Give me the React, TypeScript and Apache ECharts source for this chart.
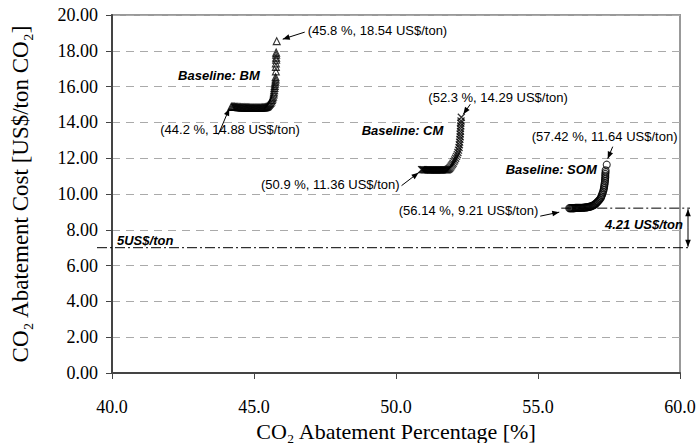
import React, { useEffect, useRef } from 'react';
import * as echarts from 'echarts';

const xTicks = [40, 45, 50, 55, 60];
const yTicks = [0, 2, 4, 6, 8, 10, 12, 14, 16, 18, 20];

const bmPoints: number[][] = [
  [44.20, 14.88], [44.23, 14.88], [44.26, 14.87], [44.29, 14.87], [44.32, 14.87], [44.35, 14.86],
  [44.38, 14.86], [44.41, 14.86], [44.44, 14.85], [44.47, 14.85], [44.50, 14.85], [44.53, 14.85],
  [44.56, 14.84], [44.59, 14.84], [44.62, 14.84], [44.65, 14.84], [44.68, 14.84], [44.71, 14.83],
  [44.74, 14.83], [44.77, 14.83], [44.80, 14.83], [44.83, 14.83], [44.86, 14.82], [44.89, 14.82],
  [44.92, 14.82], [44.95, 14.82], [44.98, 14.82], [45.01, 14.82], [45.04, 14.82], [45.07, 14.82],
  [45.10, 14.82], [45.13, 14.82], [45.16, 14.82], [45.19, 14.82], [45.22, 14.82], [45.25, 14.82],
  [45.28, 14.83], [45.31, 14.83], [45.34, 14.83], [45.37, 14.84], [45.40, 14.85], [45.43, 14.86],
  [45.46, 14.88], [45.49, 14.92], [45.52, 14.97], [45.55, 15.03], [45.58, 15.09], [45.61, 15.17],
  [45.63, 15.25], [45.65, 15.34], [45.67, 15.44], [45.69, 15.56], [45.70, 15.68], [45.71, 15.80],
  [45.72, 15.92], [45.73, 16.04], [45.74, 16.16], [45.75, 16.28], [45.76, 16.40], [45.76, 16.52],
  [45.77, 16.85], [45.77, 17.10], [45.77, 17.30], [45.78, 17.50], [45.78, 17.62], [45.78, 17.78],
  [45.78, 17.90], [45.80, 18.54],
];

const cmPoints: number[][] = [
  [50.90, 11.36], [50.93, 11.36], [50.96, 11.36], [50.99, 11.35], [51.02, 11.35], [51.05, 11.35],
  [51.08, 11.35], [51.11, 11.35], [51.14, 11.34], [51.17, 11.34], [51.20, 11.34], [51.23, 11.34],
  [51.26, 11.34], [51.29, 11.34], [51.32, 11.34], [51.35, 11.34], [51.38, 11.34], [51.41, 11.34],
  [51.44, 11.34], [51.47, 11.34], [51.50, 11.34], [51.53, 11.34], [51.56, 11.34], [51.59, 11.34],
  [51.62, 11.34], [51.65, 11.34], [51.68, 11.35], [51.71, 11.35], [51.74, 11.35], [51.77, 11.35],
  [51.80, 11.35], [51.83, 11.37], [51.86, 11.40], [51.89, 11.44], [51.92, 11.50], [51.95, 11.57],
  [51.98, 11.64], [52.01, 11.72], [52.04, 11.81], [52.07, 11.90], [52.10, 12.00], [52.13, 12.10],
  [52.16, 12.20], [52.18, 12.32], [52.20, 12.45], [52.22, 12.60], [52.23, 12.75], [52.24, 12.90],
  [52.25, 13.05], [52.26, 13.20], [52.26, 13.35], [52.27, 13.50], [52.27, 13.65], [52.28, 13.80],
  [52.28, 13.95], [52.29, 14.08], [52.30, 14.29],
];

const somPoints: number[][] = [
  [56.10, 9.21], [56.13, 9.21], [56.16, 9.21], [56.19, 9.21], [56.22, 9.21], [56.25, 9.21],
  [56.28, 9.21], [56.31, 9.22], [56.34, 9.22], [56.37, 9.22], [56.40, 9.22], [56.43, 9.22],
  [56.46, 9.22], [56.49, 9.23], [56.52, 9.23], [56.55, 9.23], [56.58, 9.23], [56.61, 9.24],
  [56.64, 9.24], [56.67, 9.25], [56.70, 9.25], [56.73, 9.26], [56.76, 9.27], [56.79, 9.28],
  [56.82, 9.29], [56.85, 9.30], [56.88, 9.32], [56.91, 9.34], [56.94, 9.36], [56.97, 9.39],
  [57.00, 9.42], [57.03, 9.46], [57.06, 9.50], [57.09, 9.55], [57.12, 9.60], [57.15, 9.65],
  [57.18, 9.71], [57.21, 9.78], [57.23, 9.86], [57.25, 9.94], [57.27, 10.03], [57.29, 10.12],
  [57.31, 10.22], [57.32, 10.32], [57.33, 10.42], [57.34, 10.52], [57.35, 10.62], [57.36, 10.72],
  [57.36, 10.82], [57.37, 10.92], [57.37, 11.02], [57.37, 11.12], [57.38, 11.22], [57.38, 11.32],
  [57.42, 11.64],
];

const thresholdCost = 7.0;
const thresholdLabel = '5US$/ton';
const somStart = [56.1, 9.21];
const gapLabel = '4.21 US$/ton';

// annotation texts anchored to data points (offsets in pixels)
const pointLabels = [
  { text: '(45.8 %, 18.54 US$/ton)', at: [45.8, 18.54], dx: 31, dy: -11, align: 'left', tail: [28, -9], head: [6, -2] },
  { text: '(44.2 %, 14.88 US$/ton)', at: [44.2, 14.88], dx: -71, dy: 23, align: 'left', tail: [-13, 28], head: [-2, 2] },
  { text: '(52.3 %, 14.29 US$/ton)', at: [52.3, 14.29], dx: -33, dy: -20, align: 'left', tail: [9, -13], head: [2, -3] },
  { text: '(50.9 %, 11.36 US$/ton)', at: [50.9, 11.36], dx: -22, dy: 15, align: 'right', tail: [-20, 16], head: [-3, 3] },
  { text: '(57.42 %, 11.64 US$/ton)', at: [57.42, 11.64], dx: -75, dy: -28, align: 'left', tail: [6, -18], head: [1, -6] },
  { text: '(56.14 %, 9.21 US$/ton)', at: [56.1, 9.21], dx: -31, dy: 2, align: 'right', tail: [-29, 8], head: [-10, 4] },
];
const baselineLabels = [
  { text: 'Baseline: BM', at: [45.8, 18.54], dx: -17, dy: 34 },
  { text: 'Baseline: CM', at: [52.3, 14.29], dx: -18, dy: 13 },
  { text: 'Baseline: SOM', at: [57.42, 11.64], dx: -10, dy: 5 },
];

const serif = '"Liberation Serif", "DejaVu Serif", serif';
const sans = '"Liberation Sans", Arial, sans-serif';

export default function App() {
  const ref = useRef<HTMLDivElement>(null);
  useEffect(() => {
    const chart = echarts.init(ref.current!, null, { renderer: 'svg' });
    chart.setOption({
      animation: false,
      backgroundColor: '#fff',
      grid: {
        left: 112, right: 20, top: 15, bottom: 70, show: true, borderColor: '#999', borderWidth: 2,
        outerBoundsMode: 'none', containLabel: false,
      },
      xAxis: {
        type: 'value', min: xTicks[0], max: xTicks[xTicks.length - 1], interval: 5,
        name: 'CO₂ Abatement Percentage [%]', nameLocation: 'middle', nameGap: 45,
        nameTextStyle: { fontFamily: serif, fontSize: 22, color: '#000' },
        axisLine: { lineStyle: { color: '#444', width: 2 } },
        axisTick: { length: 6, lineStyle: { color: '#444', width: 1 } },
        axisLabel: { fontFamily: serif, fontSize: 18, color: '#000', margin: 25, formatter: (v: number) => v.toFixed(1) },
        splitLine: { show: false },
      },
      yAxis: {
        type: 'value', min: yTicks[0], max: yTicks[yTicks.length - 1], interval: 2,
        name: 'CO₂ Abatement Cost [US$/ton CO₂]', nameLocation: 'middle', nameGap: 80,
        nameTextStyle: { fontFamily: serif, fontSize: 23, color: '#000' },
        axisLine: { lineStyle: { color: '#444', width: 2 } },
        axisTick: { length: 6, lineStyle: { color: '#444', width: 1 } },
        axisLabel: { fontFamily: serif, fontSize: 18, color: '#000', margin: 14, formatter: (v: number) => v.toFixed(2) },
        splitLine: { show: true, lineStyle: { color: '#aaa', width: 1, type: [8, 6] } },
      },
      series: [
        {
          name: 'BM', type: 'scatter', data: bmPoints, symbol: 'triangle', symbolSize: 7,
          itemStyle: { color: 'transparent', borderColor: '#000', borderWidth: 1.1 },
        },
        {
          name: 'CM', type: 'scatter', data: cmPoints, symbol: 'path://M0,0L10,10M10,0L0,10', symbolSize: 7,
          itemStyle: { color: 'transparent', borderColor: '#000', borderWidth: 1.3 },
        },
        {
          name: 'SOM', type: 'scatter', data: somPoints, symbol: 'circle', symbolSize: 7,
          itemStyle: { color: 'transparent', borderColor: '#000', borderWidth: 1.1 },
        },
      ],
    });

    const px = (p: number[]) => chart.convertToPixel({ gridIndex: 0 }, p) as number[];
    const els: any[] = [];
    const arrow = (x1: number, y1: number, x2: number, y2: number) => {
      els.push({ type: 'line', shape: { x1, y1, x2, y2 }, style: { stroke: '#000', lineWidth: 1 }, z: 100 });
      const a = Math.atan2(y2 - y1, x2 - x1);
      const L = 7, W = 2.8;
      const bx = x2 - L * Math.cos(a), by = y2 - L * Math.sin(a);
      els.push({
        type: 'polygon', z: 100,
        shape: { points: [[x2, y2], [bx + W * Math.sin(a), by - W * Math.cos(a)], [bx - W * Math.sin(a), by + W * Math.cos(a)]] },
        style: { fill: '#000' },
      });
    };

    pointLabels.forEach((l) => {
      const [x, y] = px(l.at);
      els.push({
        type: 'text', x: x + l.dx, y: y + l.dy, z: 100,
        style: { text: l.text, fill: '#000', font: `13px ${sans}`, align: l.align, verticalAlign: 'middle' },
      });
      arrow(x + l.tail[0], y + l.tail[1], x + l.head[0], y + l.head[1]);
    });
    baselineLabels.forEach((l) => {
      const [x, y] = px(l.at);
      els.push({
        type: 'text', x: x + l.dx, y: y + l.dy, z: 100,
        style: { text: l.text, fill: '#000', font: `italic bold 13px ${sans}`, align: 'right', verticalAlign: 'middle' },
      });
    });

    const [gx0, gy7] = px([xTicks[0], thresholdCost]);
    const [gx1] = px([xTicks[xTicks.length - 1], thresholdCost]);
    const [sx, sy] = px(somStart);
    const dashDot = [10, 3, 2, 3];
    els.push({ type: 'line', z: 90, shape: { x1: gx0 - 15, y1: gy7, x2: gx1 + 10, y2: gy7 }, style: { stroke: '#000', lineWidth: 1, lineDash: dashDot } });
    els.push({ type: 'line', z: 90, shape: { x1: sx - 8, y1: sy, x2: gx1 + 10, y2: sy }, style: { stroke: '#000', lineWidth: 1, lineDash: dashDot } });
    els.push({
      type: 'text', x: gx0 + 5, y: gy7 - 7, z: 100,
      style: { text: thresholdLabel, fill: '#000', font: `italic bold 13px ${sans}`, align: 'left', verticalAlign: 'middle' },
    });
    els.push({
      type: 'text', x: gx1 + 3, y: sy + 16, z: 100,
      style: { text: gapLabel, fill: '#000', font: `italic bold 13px ${sans}`, align: 'right', verticalAlign: 'middle' },
    });
    const ax = gx1 + 8;
    const mid = (sy + gy7) / 2;
    arrow(ax, mid, ax, sy + 1);
    arrow(ax, mid, ax, gy7 - 1);

    chart.setOption({ graphic: els });
    return () => chart.dispose();
  }, []);
  return <div ref={ref} style={{ position: 'fixed', left: 0, top: 0, width: 700, height: 443 }} />;
}
